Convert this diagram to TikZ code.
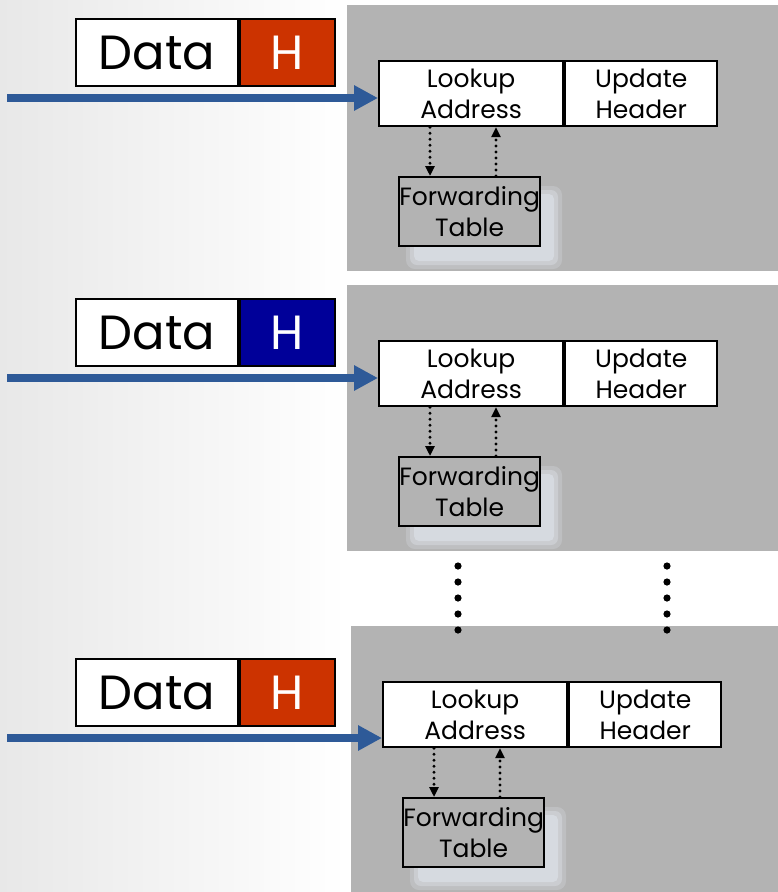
\documentclass[tikz,border=0pt]{standalone}
\usepackage{fontspec}
\setmainfont{Poppins}
\usetikzlibrary{arrows.meta}

\definecolor{panelgray}{HTML}{B3B3B3}
\definecolor{hred}{HTML}{CC3300}
\definecolor{hblue}{HTML}{000099}
\definecolor{flowblue}{HTML}{2E5A98}
\definecolor{shadowc}{HTML}{D8DCE2}

\tikzset{
    box/.style={draw=black, line width=2.2pt, inner sep=0pt, align=center,
        font=\fontsize{25}{31}\selectfont},
    pkt/.style={draw=black, line width=2pt, inner sep=0pt, minimum height=67pt,
        font=\fontsize{48}{58}\selectfont},
    flow/.style={draw=flowblue, line width=7.5pt, -{Triangle[length=24pt,width=24pt]}},
    dotarrow/.style={line width=3.2pt, line cap=round, dash pattern=on 0pt off 6pt,
        -{Triangle[length=10pt,width=9pt]}}
}

\begin{document}
\begin{tikzpicture}[x=1pt, y=-1pt]

    \useasboundingbox (0,0) rectangle (778,892);

    % Background
    \fill[white] (0,0) rectangle (778,892);
    \shade[left color=black!9, right color=white] (0,0) rectangle (347,892);

    % Three routers
    \foreach \i/\px/\py/\dy/\hcol in {1/0/0/0/hred, 2/0/280/280/hblue, 3/4/621/640/hred} {

        % Panel
        \fill[panelgray] (347+\px,5+\py) rectangle (778,271+\py);
        \fill[shadowc, opacity=0.3, rounded corners=9pt] (406+\px,186+\py) rectangle (562+\px,269+\py);
        \fill[shadowc, opacity=0.5, rounded corners=7pt] (410+\px,190+\py) rectangle (558+\px,265+\py);
        \fill[shadowc, opacity=0.9, rounded corners=5pt] (414+\px,194+\py) rectangle (554+\px,261+\py);

        % Stages
        \node[box, fill=white, anchor=north west, minimum width=184pt, minimum height=65pt]
            (look\i) at (378+\px,60+\py) {Lookup\\Address};
        \node[box, fill=white, anchor=north west, minimum width=152pt, minimum height=65pt]
            (upd\i) at (look\i.north east) {Update\\Header};
        \node[box, fill=panelgray, anchor=north west, minimum width=141pt, minimum height=69pt]
            (fwd\i) at (398+\px,176+\py) {Forwarding\\Table};

        % Table lookups
        \draw[dotarrow] ([xshift=32pt]fwd\i.north west |- look\i.south) -- ([xshift=32pt]fwd\i.north west);
        \draw[dotarrow] ([xshift=98pt]fwd\i.north west) -- ([xshift=98pt]fwd\i.north west |- look\i.south);

        % Packet
        \node[pkt, fill=white, anchor=north west, minimum width=162pt]
            (data\i) at (75,18+\dy) {Data};
        \node[pkt, fill=\hcol, text=white, anchor=north west, minimum width=95pt]
            (hdr\i) at (data\i.north east) {H};

        % Incoming packet
        \coordinate (src\i) at (7,98+\dy);
        \draw[flow] (src\i) -- (src\i -| look\i.west);
    }

    % Dots between the panels
    \foreach \y in {566,582,...,630} {
        \fill (458,\y) circle (3.6pt);
        \fill (667,\y) circle (3.6pt);
    }

\end{tikzpicture}
\end{document}
